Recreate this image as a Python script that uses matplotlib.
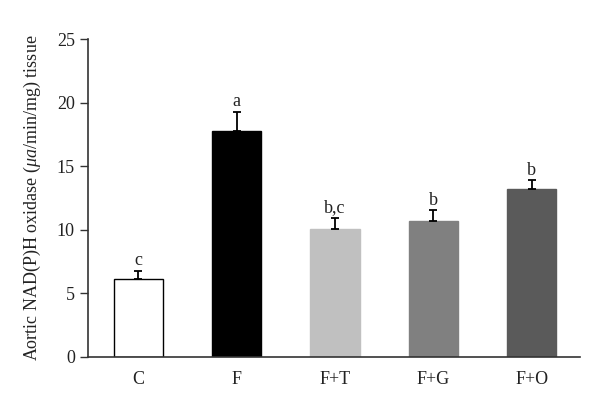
import matplotlib
matplotlib.use("Agg")
import matplotlib.pyplot as plt

GROUPS = ["C", "F", "F+T", "F+G", "F+O"]
MEANS = [6.1, 17.8, 10.1, 10.7, 13.2]
ERRORS = [0.7, 1.5, 0.85, 0.85, 0.7]
LETTERS = ["c", "a", "b,c", "b", "b"]
COLORS = ["white", "black", "#c0c0c0", "#808080", "#5a5a5a"]
EDGES = ["black", "black", "#c0c0c0", "#808080", "#5a5a5a"]
TEXT_COLOR = "#222222"

plt.rcParams["font.family"] = ["Liberation Serif", "DejaVu Serif"]
plt.rcParams["mathtext.fontset"] = "custom"
plt.rcParams["mathtext.rm"] = "Liberation Serif"
plt.rcParams["mathtext.it"] = "Liberation Serif:italic"

fig = plt.figure(figsize=(6, 4.07), dpi=100)
ax = fig.add_axes([0.1467, 0.1229, 0.82, 0.781])

x = list(range(len(GROUPS)))
ax.bar(x, MEANS, width=0.5, color=COLORS, edgecolor=EDGES, linewidth=1.0, zorder=2)
# error bars only upward
ax.errorbar(x, MEANS, yerr=[[0] * len(ERRORS), ERRORS], fmt="none",
            ecolor="black", elinewidth=1.3, capsize=3, capthick=1.3, zorder=3)
for xi, m, e, lab in zip(x, MEANS, ERRORS, LETTERS):
    ax.text(xi, m + e + 0.1, lab, ha="center", va="bottom", fontsize=13, color=TEXT_COLOR)

ax.set_xlim(-0.51, 4.49)
ax.set_ylim(0, 25)
ax.set_yticks([0, 5, 10, 15, 20, 25])
ax.set_xticks(x)
ax.set_xticklabels(GROUPS)
ax.tick_params(axis="y", direction="out", length=6, width=1, labelsize=13,
               labelcolor=TEXT_COLOR, color="#333333")
ax.tick_params(axis="x", length=0, labelsize=13, pad=10, labelcolor=TEXT_COLOR)
for side in ["top", "right"]:
    ax.spines[side].set_visible(False)
ax.spines["left"].set_linewidth(1.2)
ax.spines["bottom"].set_linewidth(1.2)
ax.spines["left"].set_color("#333333")
ax.spines["bottom"].set_color("#333333")
ax.set_ylabel(r"Aortic NAD(P)H oxidase ($\mu a$/min/mg) tissue", fontsize=13,
              labelpad=10, color=TEXT_COLOR)

fig.savefig("out.png", dpi=100)
